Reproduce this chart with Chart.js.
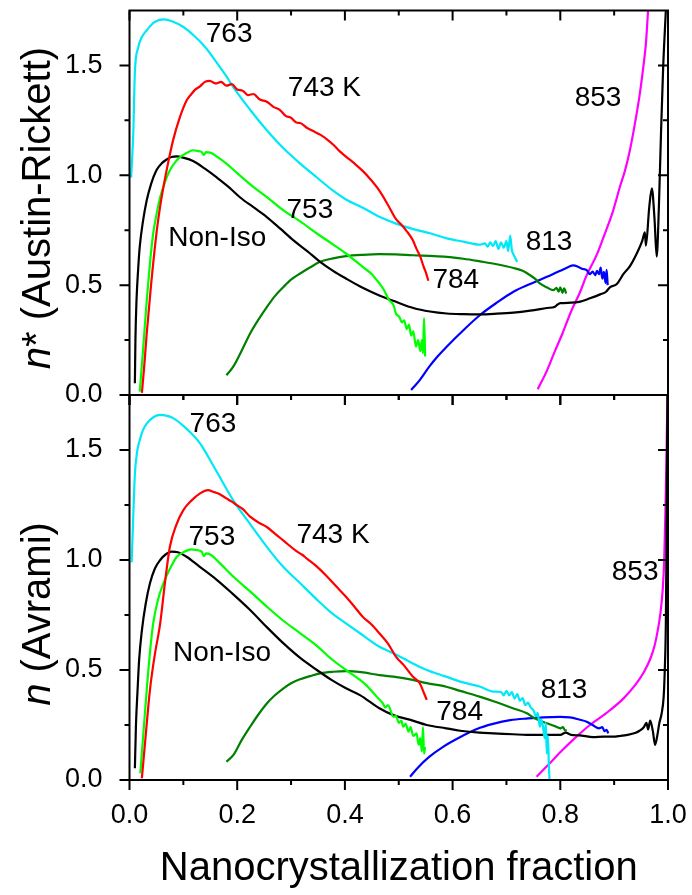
<!DOCTYPE html>
<html>
<head>
<meta charset="utf-8">
<title>Avrami exponents</title>
<script src="https://cdn.jsdelivr.net/npm/chart.js@4"></script>
<style>
    html, body { margin: 0; padding: 0; background: #fff; }
    #wrap { position: relative; width: 692px; height: 895px; }
    canvas { position: absolute; left: 0; top: 0; }
</style>
</head>
<body>
<div id="wrap">
    <canvas id="topPanel" width="692" height="895"></canvas>
    <canvas id="bottomPanel" width="692" height="895"></canvas>
</div>
<script>
// axis ticks
const X_TICKS = [0, 0.2, 0.4, 0.6, 0.8, 1.0];
const X_MINOR = [0.1, 0.3, 0.5, 0.7, 0.9];
const Y_TICKS = [0, 0.5, 1.0, 1.5];
const Y_MINOR = [0.25, 0.75, 1.25];

// top panel: n* (Austin-Rickett), [fraction, n*]
const TOP_743 = [[0.023,0.01],[0.027,0.12],[0.032,0.28],[0.04,0.5],[0.05,0.735],[0.057,0.86],[0.063,0.947],[0.072,1.06],[0.081,1.16],[0.093,1.26],[0.106,1.34],[0.115,1.37],[0.122,1.39],[0.131,1.405],[0.14,1.425],[0.149,1.43],[0.16,1.418],[0.17,1.425],[0.18,1.408],[0.19,1.415],[0.2,1.39],[0.21,1.385],[0.22,1.365],[0.23,1.37],[0.242,1.345],[0.255,1.335],[0.268,1.31],[0.279,1.298],[0.29,1.27],[0.3,1.262],[0.31,1.24],[0.317,1.238],[0.33,1.215],[0.342,1.2],[0.354,1.185],[0.366,1.165],[0.378,1.14],[0.39,1.11],[0.402,1.085],[0.417,1.055],[0.433,1.02],[0.448,0.98],[0.464,0.93],[0.48,0.865],[0.495,0.8],[0.505,0.775],[0.515,0.745],[0.526,0.705],[0.533,0.665],[0.54,0.63],[0.546,0.585],[0.55,0.56],[0.555,0.52]];
const TOP_753 = [[0.019,0.015],[0.025,0.2],[0.032,0.43],[0.038,0.6],[0.044,0.735],[0.05,0.82],[0.057,0.9],[0.066,0.97],[0.075,1.023],[0.085,1.06],[0.094,1.083],[0.105,1.1],[0.118,1.114],[0.128,1.11],[0.134,1.106],[0.138,1.093],[0.142,1.105],[0.15,1.103],[0.165,1.08],[0.18,1.053],[0.2,1.01],[0.23,0.947],[0.258,0.895],[0.286,0.84],[0.317,0.79],[0.348,0.735],[0.375,0.69],[0.402,0.644],[0.433,0.583],[0.45,0.55],[0.464,0.508],[0.472,0.48],[0.482,0.432],[0.49,0.41],[0.495,0.37],[0.501,0.356],[0.506,0.33],[0.51,0.34],[0.515,0.3],[0.519,0.32],[0.523,0.27],[0.527,0.29],[0.532,0.22],[0.536,0.25],[0.54,0.2],[0.543,0.25],[0.545,0.19],[0.547,0.35],[0.549,0.175]];
const TOP_763 = [[0.003,0.99],[0.007,1.19],[0.01,1.47],[0.016,1.58],[0.022,1.625],[0.032,1.66],[0.045,1.695],[0.063,1.71],[0.08,1.7],[0.1,1.675],[0.12,1.635],[0.14,1.585],[0.16,1.52],[0.18,1.45],[0.193,1.4],[0.225,1.295],[0.255,1.205],[0.285,1.125],[0.317,1.053],[0.348,0.99],[0.378,0.93],[0.402,0.89],[0.435,0.85],[0.465,0.81],[0.495,0.78],[0.527,0.755],[0.56,0.735],[0.589,0.713],[0.62,0.698],[0.651,0.684],[0.66,0.69],[0.665,0.675],[0.67,0.695],[0.675,0.678],[0.68,0.7],[0.685,0.665],[0.69,0.695],[0.695,0.67],[0.7,0.7],[0.703,0.655],[0.707,0.725],[0.71,0.66],[0.713,0.64],[0.716,0.625],[0.72,0.605]];
const TOP_NONISO = [[0.01,0.053],[0.011,0.25],[0.013,0.43],[0.016,0.57],[0.019,0.674],[0.025,0.79],[0.032,0.886],[0.04,0.96],[0.05,1.023],[0.06,1.055],[0.069,1.072],[0.078,1.083],[0.088,1.086],[0.1,1.08],[0.118,1.065],[0.14,1.03],[0.162,0.99],[0.185,0.945],[0.205,0.9],[0.23,0.855],[0.255,0.81],[0.28,0.757],[0.304,0.705],[0.33,0.655],[0.354,0.606],[0.378,0.565],[0.402,0.53],[0.433,0.488],[0.465,0.452],[0.496,0.423],[0.527,0.396],[0.558,0.38],[0.589,0.371],[0.62,0.368],[0.651,0.367],[0.682,0.37],[0.713,0.375],[0.744,0.384],[0.775,0.396],[0.79,0.402],[0.795,0.412],[0.8,0.418],[0.82,0.42],[0.837,0.425],[0.855,0.44],[0.874,0.458],[0.885,0.47],[0.892,0.49],[0.905,0.505],[0.917,0.55],[0.929,0.585],[0.942,0.644],[0.952,0.7],[0.957,0.74],[0.959,0.68],[0.965,0.85],[0.97,0.94],[0.975,0.8],[0.979,0.63],[0.983,0.85],[0.987,1.19],[0.991,1.49],[0.996,1.75]];
const TOP_784 = [[0.18,0.09],[0.193,0.13],[0.208,0.2],[0.224,0.28],[0.24,0.345],[0.255,0.4],[0.27,0.45],[0.286,0.492],[0.3,0.525],[0.317,0.553],[0.335,0.58],[0.354,0.606],[0.378,0.622],[0.402,0.632],[0.433,0.638],[0.464,0.641],[0.495,0.64],[0.526,0.636],[0.558,0.633],[0.589,0.629],[0.62,0.62],[0.651,0.608],[0.682,0.595],[0.713,0.578],[0.73,0.565],[0.744,0.545],[0.755,0.525],[0.762,0.508],[0.775,0.49],[0.787,0.477],[0.793,0.488],[0.797,0.47],[0.8,0.49],[0.804,0.465],[0.807,0.485],[0.811,0.462]];
const TOP_813 = [[0.523,0.023],[0.539,0.068],[0.557,0.13],[0.572,0.175],[0.589,0.22],[0.62,0.295],[0.651,0.364],[0.682,0.42],[0.713,0.47],[0.744,0.505],[0.775,0.538],[0.8,0.565],[0.815,0.583],[0.824,0.59],[0.832,0.585],[0.84,0.575],[0.849,0.568],[0.855,0.55],[0.86,0.562],[0.865,0.545],[0.868,0.565],[0.872,0.55],[0.875,0.58],[0.878,0.53],[0.881,0.56],[0.884,0.51],[0.886,0.57],[0.888,0.5]];
const TOP_853 = [[0.758,0.026],[0.775,0.11],[0.79,0.2],[0.804,0.28],[0.82,0.38],[0.837,0.47],[0.848,0.54],[0.868,0.64],[0.882,0.73],[0.897,0.83],[0.911,0.95],[0.92,1.02],[0.928,1.1],[0.936,1.2],[0.947,1.36],[0.954,1.49],[0.959,1.6],[0.963,1.75]];

// bottom panel: n (Avrami), [fraction, n]
const BOT_743 = [[0.023,0.008],[0.03,0.2],[0.038,0.41],[0.047,0.57],[0.057,0.712],[0.066,0.9],[0.075,1.06],[0.087,1.16],[0.1,1.227],[0.115,1.27],[0.131,1.303],[0.146,1.318],[0.155,1.31],[0.165,1.302],[0.18,1.28],[0.19,1.265],[0.2,1.248],[0.21,1.232],[0.224,1.197],[0.24,1.17],[0.255,1.15],[0.27,1.12],[0.28,1.1],[0.292,1.076],[0.31,1.04],[0.32,1.025],[0.33,1.005],[0.348,0.97],[0.365,0.93],[0.382,0.885],[0.402,0.833],[0.417,0.79],[0.433,0.742],[0.448,0.71],[0.464,0.667],[0.48,0.62],[0.495,0.56],[0.51,0.52],[0.526,0.47],[0.539,0.44],[0.546,0.4],[0.552,0.364]];
const BOT_753 = [[0.02,0.03],[0.026,0.22],[0.032,0.41],[0.038,0.58],[0.044,0.712],[0.053,0.82],[0.063,0.894],[0.075,0.96],[0.088,1.015],[0.1,1.035],[0.115,1.048],[0.125,1.045],[0.134,1.038],[0.138,1.018],[0.142,1.03],[0.15,1.025],[0.17,0.98],[0.193,0.924],[0.225,0.855],[0.255,0.788],[0.285,0.725],[0.317,0.667],[0.348,0.61],[0.375,0.55],[0.402,0.5],[0.428,0.455],[0.44,0.43],[0.459,0.379],[0.47,0.35],[0.475,0.33],[0.48,0.34],[0.49,0.288],[0.495,0.29],[0.5,0.26],[0.505,0.27],[0.508,0.242],[0.513,0.255],[0.518,0.22],[0.522,0.24],[0.527,0.2],[0.533,0.212],[0.537,0.16],[0.54,0.19],[0.543,0.13],[0.545,0.24],[0.547,0.12],[0.549,0.15]];
const BOT_763 = [[0.004,0.99],[0.007,1.2],[0.01,1.39],[0.014,1.49],[0.019,1.545],[0.025,1.59],[0.032,1.62],[0.045,1.65],[0.057,1.66],[0.07,1.655],[0.081,1.645],[0.1,1.61],[0.115,1.575],[0.131,1.53],[0.16,1.41],[0.193,1.27],[0.225,1.16],[0.255,1.06],[0.285,0.97],[0.317,0.894],[0.348,0.82],[0.375,0.76],[0.402,0.712],[0.428,0.667],[0.464,0.606],[0.49,0.576],[0.526,0.53],[0.552,0.5],[0.588,0.47],[0.614,0.447],[0.65,0.425],[0.676,0.402],[0.69,0.4],[0.695,0.385],[0.7,0.405],[0.705,0.385],[0.71,0.4],[0.715,0.37],[0.72,0.39],[0.725,0.36],[0.73,0.372],[0.735,0.34],[0.74,0.352],[0.745,0.33],[0.75,0.318],[0.755,0.29],[0.758,0.305],[0.762,0.242],[0.765,0.275],[0.768,0.24],[0.771,0.19],[0.773,0.26],[0.775,0.12],[0.777,0.2],[0.779,0.05],[0.78,0.0]];
const BOT_NONISO = [[0.01,0.053],[0.012,0.25],[0.015,0.41],[0.018,0.55],[0.023,0.68],[0.03,0.8],[0.038,0.894],[0.047,0.96],[0.057,1.0],[0.067,1.025],[0.078,1.038],[0.09,1.035],[0.106,1.015],[0.13,0.97],[0.162,0.91],[0.19,0.85],[0.224,0.773],[0.255,0.695],[0.286,0.621],[0.317,0.555],[0.348,0.5],[0.375,0.455],[0.402,0.417],[0.428,0.386],[0.464,0.326],[0.49,0.295],[0.526,0.27],[0.552,0.25],[0.588,0.235],[0.614,0.224],[0.65,0.215],[0.676,0.212],[0.712,0.208],[0.738,0.205],[0.773,0.205],[0.8,0.205],[0.81,0.215],[0.82,0.205],[0.835,0.203],[0.861,0.195],[0.88,0.197],[0.897,0.197],[0.911,0.2],[0.925,0.205],[0.94,0.215],[0.947,0.224],[0.955,0.24],[0.96,0.26],[0.963,0.23],[0.967,0.27],[0.972,0.22],[0.976,0.16],[0.98,0.2],[0.984,0.26],[0.988,0.3],[0.992,0.38],[0.994,0.5],[0.996,0.71],[0.997,1.0],[0.998,1.4],[0.999,1.75]];
const BOT_784 = [[0.18,0.083],[0.193,0.114],[0.208,0.18],[0.224,0.242],[0.24,0.3],[0.255,0.348],[0.27,0.385],[0.286,0.417],[0.3,0.44],[0.317,0.458],[0.335,0.472],[0.354,0.485],[0.378,0.492],[0.402,0.495],[0.43,0.49],[0.464,0.477],[0.49,0.47],[0.526,0.455],[0.552,0.44],[0.588,0.424],[0.614,0.405],[0.65,0.379],[0.676,0.358],[0.712,0.326],[0.738,0.303],[0.749,0.285],[0.762,0.27],[0.775,0.258],[0.79,0.245],[0.8,0.235],[0.805,0.24],[0.809,0.225],[0.812,0.227]];
const BOT_813 = [[0.521,0.015],[0.535,0.055],[0.557,0.106],[0.583,0.152],[0.61,0.19],[0.645,0.232],[0.675,0.255],[0.707,0.272],[0.74,0.28],[0.768,0.285],[0.8,0.287],[0.818,0.285],[0.835,0.275],[0.849,0.265],[0.86,0.25],[0.872,0.235],[0.878,0.24],[0.882,0.222],[0.886,0.228],[0.889,0.212]];
const BOT_853 = [[0.756,0.015],[0.78,0.075],[0.804,0.136],[0.83,0.197],[0.855,0.25],[0.886,0.305],[0.917,0.37],[0.94,0.435],[0.955,0.49],[0.967,0.55],[0.975,0.61],[0.981,0.68],[0.986,0.76],[0.99,0.86],[0.993,1.0],[0.995,1.2],[0.997,1.45],[0.999,1.75]];

// curve labels
const TOP_NOTES = [["763", 0.185, 1.64], ["743 K", 0.362, 1.395], ["Non-Iso", 0.163, 0.715], ["753", 0.335, 0.84], ["784", 0.606, 0.523], ["813", 0.779, 0.697], ["853", 0.87, 1.35]];
const BOT_NOTES = [["763", 0.155, 1.618], ["753", 0.153, 1.105], ["743 K", 0.378, 1.114], ["Non-Iso", 0.172, 0.577], ["784", 0.613, 0.309], ["813", 0.807, 0.409], ["853", 0.939, 0.945]];

const FONT = "'Liberation Sans', Arial, sans-serif";

function makeDatasets(series) {
    return series.map(([points, color]) => ({
        data: points.map(([x, y]) => ({ x, y })),
        borderColor: color,
        borderWidth: 2.2,
        pointRadius: 0,
        showLine: true,
        cubicInterpolationMode: "monotone",
    }));
}

function drawFrame(chart) {
    const { ctx, chartArea } = chart;
    const xs = chart.scales.x;
    const ys = chart.scales.y;
    ctx.save();
    ctx.strokeStyle = "#000";
    ctx.lineWidth = 2;
    ctx.strokeRect(chartArea.left, chartArea.top, chartArea.right - chartArea.left, chartArea.bottom - chartArea.top);
    ctx.beginPath();
    const xTick = (v, len) => {
        const px = xs.getPixelForValue(v);
        ctx.moveTo(px, chartArea.top);
        ctx.lineTo(px, chartArea.top + len);
        ctx.moveTo(px, chartArea.bottom);
        ctx.lineTo(px, chartArea.bottom + len);
    };
    const yTick = (v, len) => {
        const py = ys.getPixelForValue(v);
        ctx.moveTo(chartArea.left, py);
        ctx.lineTo(chartArea.left - len, py);
        ctx.moveTo(chartArea.right, py);
        ctx.lineTo(chartArea.right - len, py);
    };
    X_TICKS.forEach((v) => xTick(v, 10));
    X_MINOR.forEach((v) => xTick(v, 5));
    Y_TICKS.forEach((v) => yTick(v, 10));
    Y_MINOR.forEach((v) => yTick(v, 5));
    ctx.stroke();
    ctx.restore();
}

function drawNotes(chart, notes) {
    const { ctx } = chart;
    ctx.save();
    ctx.fillStyle = "#000";
    ctx.font = "28px " + FONT;
    ctx.textAlign = "center";
    ctx.textBaseline = "middle";
    notes.forEach(([text, x, y]) => {
        ctx.fillText(text, chart.scales.x.getPixelForValue(x), chart.scales.y.getPixelForValue(y));
    });
    ctx.restore();
}

function drawYTitle(ctx, cx, cy, italicPart, rest) {
    const italicFont = "italic 40px " + FONT;
    const normalFont = "40px " + FONT;
    ctx.save();
    ctx.translate(cx, cy);
    ctx.rotate(-Math.PI / 2);
    ctx.fillStyle = "#000";
    ctx.textBaseline = "middle";
    ctx.textAlign = "left";
    ctx.font = italicFont;
    const w1 = ctx.measureText(italicPart).width;
    ctx.font = normalFont;
    const w2 = ctx.measureText(rest).width;
    const start = -(w1 + w2) / 2;
    ctx.font = italicFont;
    ctx.fillText(italicPart, start, 0);
    ctx.font = normalFont;
    ctx.fillText(rest, start + w1, 0);
    ctx.restore();
}

function renderPanel(canvasId, series, notes, isBottom) {
    const canvas = document.getElementById(canvasId);

    const panelPlugin = {
        id: "panelDecor",
        afterDatasetsDraw(chart) {
            drawNotes(chart, notes);
        },
        afterDraw(chart) {
            drawFrame(chart);
            const { ctx } = chart;
            if (isBottom) {
                drawYTitle(ctx, 39, 614, "n", " (Avrami)");
                ctx.save();
                ctx.fillStyle = "#000";
                ctx.font = "40px " + FONT;
                ctx.textAlign = "center";
                ctx.textBaseline = "alphabetic";
                const cx = (chart.chartArea.left + chart.chartArea.right) / 2;
                ctx.fillText("Nanocrystallization fraction", cx, 880);
                ctx.restore();
            } else {
                drawYTitle(ctx, 39, 208, "n", "* (Austin-Rickett)");
            }
        },
    };

    new Chart(canvas, {
        type: "scatter",
        data: { datasets: makeDatasets(series) },
        plugins: [panelPlugin],
        options: {
            responsive: false,
            animation: false,
            devicePixelRatio: 1,
            layout: {
                padding: isBottom
                    ? { left: 0, right: 24, top: 395, bottom: 0 }
                    : { left: 0, right: 24, top: 10.5, bottom: 500 },
            },
            plugins: {
                legend: { display: false },
                tooltip: { enabled: false },
            },
            scales: {
                x: {
                    type: "linear",
                    min: 0,
                    max: 1,
                    display: isBottom,
                    grid: { display: false },
                    border: { display: false },
                    afterBuildTicks: (scale) => {
                        scale.ticks = X_TICKS.map((v) => ({ value: v }));
                    },
                    afterFit: (scale) => {
                        scale.height = isBottom ? 115 : 0;
                        scale.paddingLeft = 0;
                        scale.paddingRight = 0;
                    },
                    ticks: {
                        color: "#000",
                        padding: 11,
                        maxRotation: 0,
                        font: { family: FONT, size: 27 },
                        callback: (v) => v.toFixed(1),
                    },
                },
                y: {
                    type: "linear",
                    min: 0,
                    max: 1.75,
                    grid: { display: false },
                    border: { display: false },
                    afterBuildTicks: (scale) => {
                        scale.ticks = Y_TICKS.map((v) => ({ value: v }));
                    },
                    afterFit: (scale) => {
                        scale.width = 129.5;
                        scale.paddingTop = 0;
                        scale.paddingBottom = 0;
                    },
                    ticks: {
                        color: "#000",
                        padding: 19,
                        font: { family: FONT, size: 27 },
                        callback: (v) => v.toFixed(1),
                    },
                },
            },
        },
    });
}

renderPanel("topPanel", [
    [TOP_743, "#ff0000"],
    [TOP_763, "#00e8f8"],
    [TOP_753, "#00ff00"],
    [TOP_NONISO, "#000000"],
    [TOP_784, "#008000"],
    [TOP_813, "#0000ff"],
    [TOP_853, "#ff00ff"],
], TOP_NOTES, false);

renderPanel("bottomPanel", [
    [BOT_743, "#ff0000"],
    [BOT_763, "#00e8f8"],
    [BOT_753, "#00ff00"],
    [BOT_NONISO, "#000000"],
    [BOT_784, "#008000"],
    [BOT_813, "#0000ff"],
    [BOT_853, "#ff00ff"],
], BOT_NOTES, true);
</script>
</body>
</html>
